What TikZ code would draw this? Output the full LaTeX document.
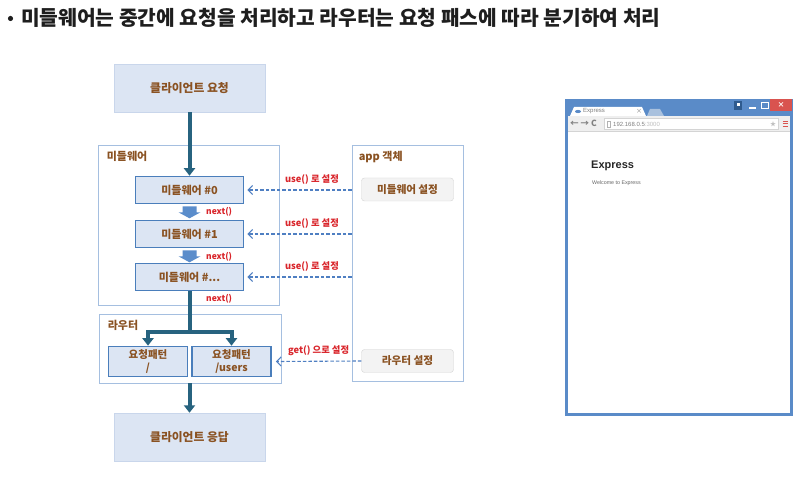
\documentclass[tikz,border=0pt]{standalone}
\usepackage{fontspec}
\setmainfont{Noto Sans CJK KR}
\newfontfamily\webfont{Liberation Sans}
\usetikzlibrary{positioning, arrows.meta, calc}

\definecolor{titlegray}{HTML}{1E1E1E}
\definecolor{labelbrown}{HTML}{8A5222}
\definecolor{callred}{HTML}{D9252B}
\definecolor{edgeblue}{HTML}{4A7EBB}
\definecolor{groupblue}{HTML}{A5BFE0}
\definecolor{paleblue}{HTML}{DCE5F3}
\definecolor{paleline}{HTML}{C9D6EB}
\definecolor{flowteal}{HTML}{27637F}
\definecolor{dashblue}{HTML}{4F7FC2}
\definecolor{stepblue}{HTML}{5B8DCB}
\definecolor{setfill}{HTML}{F3F3F3}
\definecolor{setline}{HTML}{D4D4D4}
\definecolor{framebl}{HTML}{5A8BC8}
\definecolor{tabgray}{HTML}{A9C1DE}
\definecolor{toolgray}{HTML}{EFEFEF}
\definecolor{btndark}{HTML}{2F5B8F}
\definecolor{closered}{HTML}{D9534F}

\tikzset{
  endbox/.style={draw=paleline, fill=paleblue, minimum width=151pt, minimum height=48pt,
    inner sep=0pt, text=labelbrown, font=\bfseries\fontsize{11.8}{14}\selectfont},
  groupframe/.style={draw=groupblue, line width=0.8pt, fill=white, inner sep=0pt},
  grouplabel/.style={text=labelbrown, font=\bfseries\fontsize{11}{13}\selectfont,
    inner sep=0pt, anchor=west},
  mwbox/.style={draw=edgeblue, line width=1.6pt, fill=paleblue, minimum width=108pt,
    minimum height=27pt, inner sep=0pt, text=labelbrown,
    font=\bfseries\fontsize{11}{12}\selectfont},
  patbox/.style={mwbox, minimum width=79pt, minimum height=30pt, align=center,
    font=\bfseries\fontsize{10.5}{12.5}\selectfont},
  setbox/.style={draw=setline, fill=setfill, rounded corners=3pt, minimum width=92pt,
    minimum height=23pt, inner sep=0pt, text=labelbrown,
    font=\bfseries\fontsize{10.6}{12}\selectfont},
  flowline/.style={draw=flowteal, line width=4pt, -{Triangle[width=11pt,length=7.5pt]}},
  setcall/.style={draw=dashblue, line width=1.1pt, dash pattern=on 3.5pt off 2pt,
    -{Straight Barb[length=4.5pt,width=9pt]}},
  calllabel/.style={text=callred, font=\bfseries\fontsize{9.3}{11}\selectfont, inner sep=0pt},
  nextlabel/.style={calllabel, font=\bfseries\fontsize{8.5}{10}\selectfont, anchor=west},
}

% small block arrow under a middleware box
\newcommand{\nextarrow}[1]{%
  \fill[stepblue] ([yshift=-2pt,xshift=-7pt]#1.south) -- ++(14,0) -- ++(0,6) -- ++(4,0)
    -- ++(-11,6) -- ++(-11,-6) -- ++(4,0) -- cycle;}

\begin{document}
\begin{tikzpicture}[x=1pt, y=-1pt]
\useasboundingbox (0,0) rectangle (812,478);

\fill[titlegray] (10.5,18.5) circle (2.6) coordinate (bullet);
\node[anchor=west, inner sep=0pt, text=titlegray, font=\bfseries\fontsize{20.3}{22}\selectfont] (title)
  at (21,18) {미들웨어는 중간에 요청을 처리하고 라우터는 요청 패스에 따라 분기하여 처리};

% containers
\node[groupframe, minimum width=181pt, minimum height=160pt] (mwgroup) at (188.5,225) {};
\node[groupframe, minimum width=182pt, minimum height=69pt] (routegroup) at (190,348.5) {};
\node[groupframe, minimum width=111pt, minimum height=236pt] (appgroup) at (407.5,263) {};
\node[grouplabel] (mwlabel) at ([xshift=9pt,yshift=-12pt]mwgroup.north west) {미들웨어};
\node[grouplabel] (routelabel) at ([xshift=9pt,yshift=-12pt]routegroup.north west) {라우터};
\node[grouplabel] (applabel) at ([xshift=7pt,yshift=-12pt]appgroup.north west) {app 객체};

\node[endbox] (request) at (189.5,88) {클라이언트 요청};
\node[endbox] (response) at (189.5,437) {클라이언트 응답};

\node[mwbox] (mw0) at (189.5,190) {미들웨어 \#0};
\node[mwbox] (mw1) at (189.5,234) {미들웨어 \#1};
\node[mwbox] (mw2) at (189.5,277) {미들웨어 \#...};

\node[patbox] (pat1) at (148,361.5) {요청패턴\\/};
\node[patbox] (pat2) at (231.5,361.5) {요청패턴\\/users};

\node[setbox] (mwset) at (407.5,189.5) {미들웨어 설정};
\node[setbox] (routeset) at (407.5,361) {라우터 설정};

% request flow
\coordinate (split) at (189.5,332);
\draw[flowline] (request) -- (mw0);
\draw[flowline, -] (mw2.south) -- (split);
\draw[flowline] (split) -| (pat1.north);
\draw[flowline] (split) -| (pat2.north);
\draw[flowline] (response.north |- routegroup.south) -- (response.north);

\nextarrow{mw0}
\nextarrow{mw1}
\node[nextlabel] (next0) at (206,212) {next()};
\node[nextlabel] (next1) at (206,257) {next()};
\node[nextlabel] (next2) at (206,299) {next()};

% app settings
\draw[setcall] (appgroup.west |- mw0.east) -- node[calllabel, above=5pt, pos=0.38] {use() 로 설정} ([xshift=3pt]mw0.east);
\draw[setcall] (appgroup.west |- mw1.east) -- node[calllabel, above=5pt, pos=0.38] {use() 로 설정} ([xshift=3pt]mw1.east);
\draw[setcall] (appgroup.west |- mw2.east) -- node[calllabel, above=5pt, pos=0.38] {use() 로 설정} ([xshift=3pt]mw2.east);
\draw[setcall] (routeset.west) -- node[calllabel, above=5pt] {get() 으로 설정} ([xshift=4pt]pat2.east);

% browser window
\fill[framebl] (565,99) rectangle (793,416);
\fill[white] (568,131) rectangle (790,413);
\fill[toolgray] (568,116) rectangle (790,131);
\draw[setline, line width=0.5pt] (568,131) -- (790,131);
\fill[white] (570,116) -- (574,107) -- (642,107) -- (646,116) -- cycle;
\fill[tabgray] (647,116) -- (650,109) -- (660,109) -- (664,116) -- cycle;
\fill[framebl] (578,111.5) ellipse (3 and 1.6);
\node[anchor=west, inner sep=0pt, text=gray, font=\webfont\fontsize{6}{7}\selectfont] at (583,111.5) {Express};
\node[inner sep=0pt, text=gray, font=\fontsize{6}{7}\selectfont] at (639,111.5) {×};
\fill[btndark] (734,101) rectangle (742,110);
\fill[white] (736.5,103) rectangle (739.5,106);
\draw[white, line width=1.2pt] (749,108) -- (756,108);
\draw[white, line width=1pt] (761,102.5) rectangle (768,108.5);
\fill[closered] (770,99) rectangle (792,111);
\node[inner sep=0pt, text=white, font=\bfseries\fontsize{7}{8}\selectfont] at (781,105) {×};
\node[anchor=west, inner sep=0pt, text=gray, font=\bfseries\fontsize{8.5}{9}\selectfont] at (570,123.5) {← → C};
\draw[setline, fill=white, line width=0.5pt] (604,118.5) rectangle (778,129);
\draw[gray!60, line width=0.4pt] (607,121) rectangle (610,127);
\node[anchor=west, inner sep=0pt, font=\webfont\fontsize{6}{7}\selectfont] at (613,124)
  {\textcolor{gray}{192.168.0.5}\textcolor{gray!50}{:3000}};
\node[inner sep=0pt, text=gray!50, font=\fontsize{6}{7}\selectfont] at (773,124) {★};
\foreach \yy in {121.5,124,126.5}
  \draw[closered, line width=1pt] (782.5,\yy) -- (787.5,\yy);
\node[anchor=west, inner sep=0pt, text=black!85, font=\webfont\bfseries\fontsize{11}{13}\selectfont] at (591,166) {Express};
\node[anchor=west, inner sep=0pt, text=black!60, font=\webfont\fontsize{5.3}{6}\selectfont] at (592,183) {Welcome to Express};
\end{tikzpicture}
\end{document}
